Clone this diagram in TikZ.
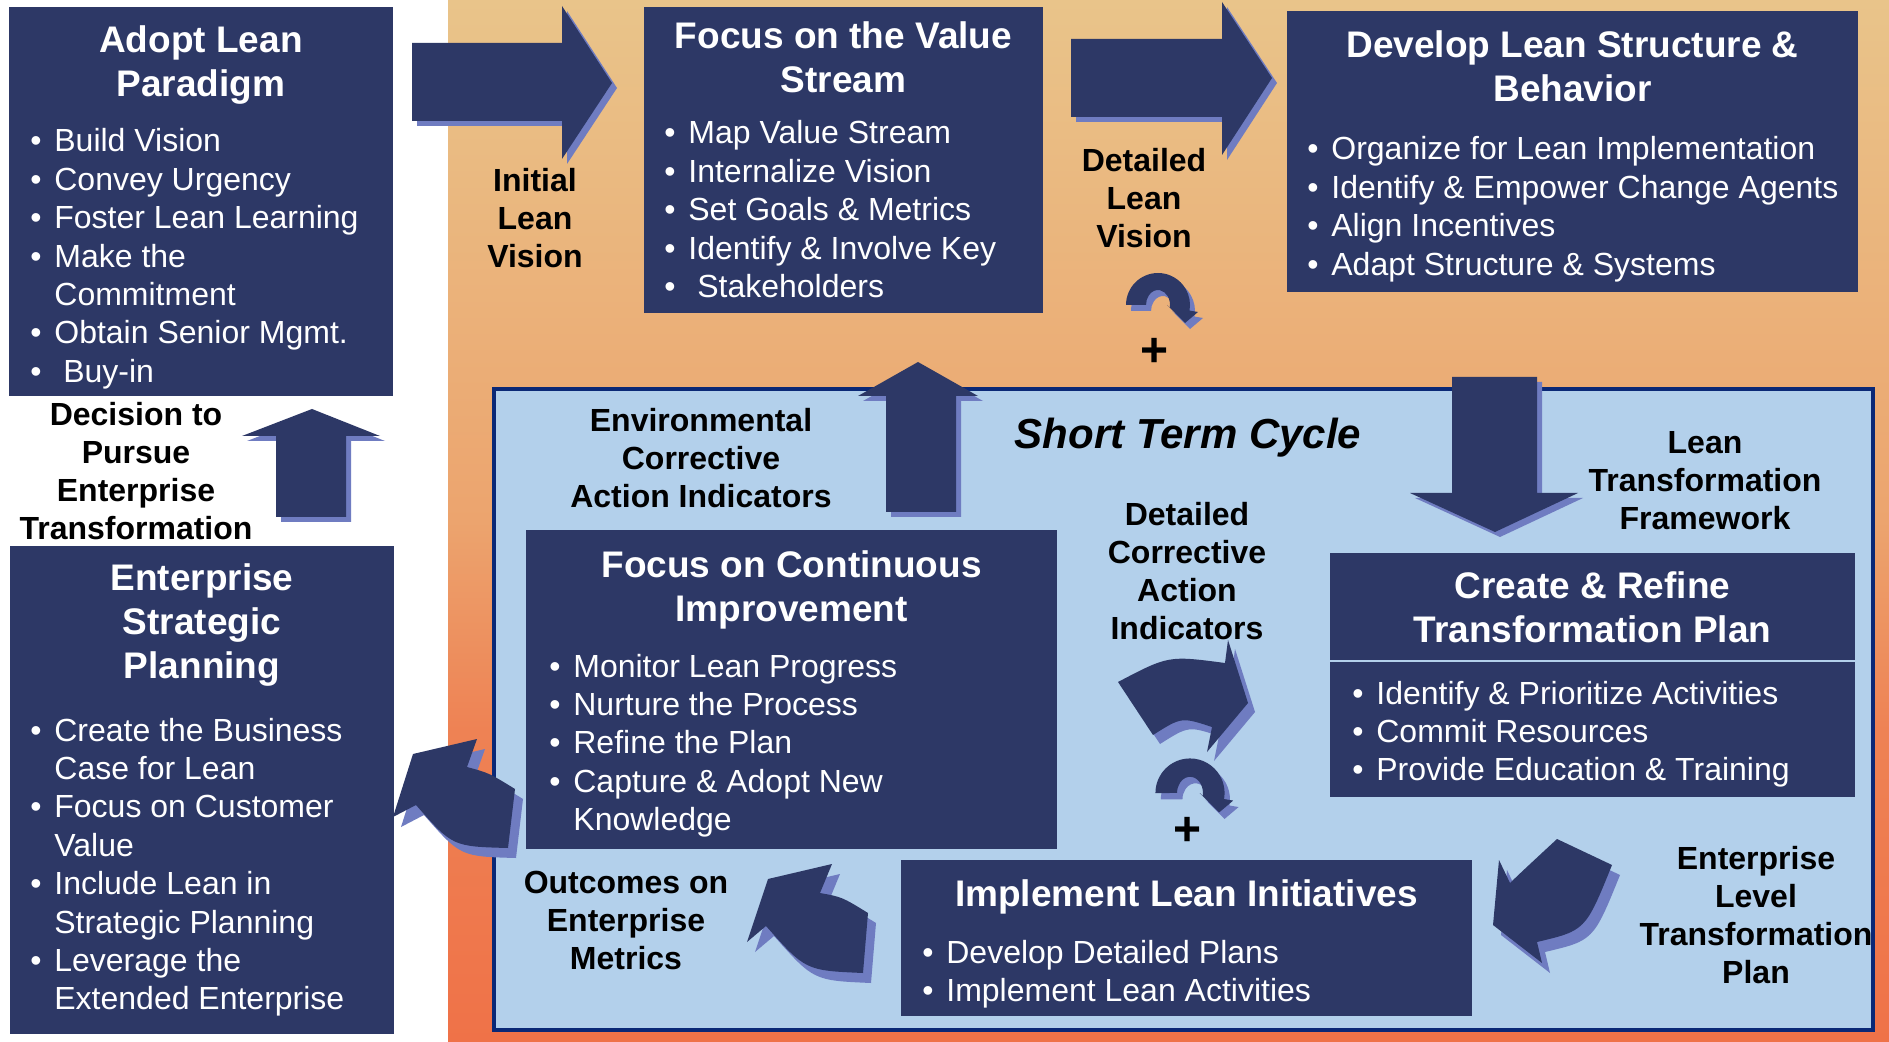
\documentclass[tikz,border=0pt]{standalone}
\usepackage{fontspec}
\setmainfont{Liberation Sans}
\usetikzlibrary{fit}

\definecolor{navy}{RGB}{45,56,102}
\definecolor{drop}{RGB}{111,124,193}
\definecolor{cyclefill}{RGB}{179,208,235}
\definecolor{cycleline}{RGB}{10,40,118}
\definecolor{warmA}{RGB}{239,114,72}
\definecolor{warmB}{RGB}{238,130,84}
\definecolor{warmC}{RGB}{236,164,110}
\definecolor{warmD}{RGB}{233,196,138}
% background fade, bottom (0bp) to top (100bp); the path box maps onto 25bp..75bp
\pgfdeclareverticalshading{warmfade}{100bp}{color(0bp)=(warmA); color(25bp)=(warmA);
  color(40bp)=(warmB); color(50bp)=(warmC); color(75bp)=(warmD); color(100bp)=(warmD)}

% multi-line text helpers
\newcommand{\stack}[1]{\begin{tabular}[t]{@{}c@{}}#1\end{tabular}}
\newcommand{\lst}[1]{\begin{tabular}[t]{@{}l@{}}#1\end{tabular}}
\newcommand{\bl}{\makebox[12pt][l]{\textbullet}}
\newcommand{\ind}{\hspace*{12pt}}

% block shapes with a light drop copy behind them
\newcommand{\shadowed}[2][5,5]{\fill[drop,shift={(#1)}] #2; \fill[navy] #2;}
\def\hookpath{(-32,0) arc[start angle=180, end angle=370, x radius=32, y radius=32]
  -- (40,7) -- (27,18) -- (9,0) -- (11.82,2.6)
  arc[start angle=370, end angle=180, x radius=12, y radius=15] -- cycle}
\newcommand{\hookarrow}[3]{%
  \begin{scope}[shift={(#1,#2)}, scale=#3]
    \fill[drop, shift={(5,6)}] \hookpath;
    \fill[navy] \hookpath;
  \end{scope}}

\tikzset{
  panel/.style={fill=navy, draw=none, inner sep=0pt, outer sep=0pt},
  cyclepanel/.style={fill=cyclefill, draw=cycleline, line width=1.75pt, inner sep=0pt},
  headtext/.style={text=white, font=\fontsize{18.5}{22}\selectfont\bfseries, anchor=base, inner sep=0pt},
  itemtext/.style={text=white, font=\fontsize{16}{19.2}\selectfont, anchor=base west, inner sep=0pt},
  tag/.style={text=black, font=\fontsize{16}{19}\selectfont\bfseries, anchor=base, inner sep=0pt},
  cycletitle/.style={text=black, font=\fontsize{21}{25}\selectfont\bfseries\itshape, anchor=base, inner sep=0pt},
  plus/.style={text=black, font=\fontsize{24}{24}\selectfont\bfseries, inner sep=0pt},
}

\begin{document}
\begin{tikzpicture}[x=0.5pt, y=-0.5pt]
\useasboundingbox (0,0) rectangle (1889,1042);
\fill[white] (0,0) rectangle (1889,1042);
\fill[shading=warmfade] (448,0) rectangle (1889,1042);

% ---- outer panels
\node[panel, fit={(9,7)(393,396)}] (adopt) {};
\node[headtext] (adopt-h) at (201,53) {\stack{Adopt Lean\\Paradigm}};
\node[itemtext] (adopt-i) at (30,152) {\lst{\bl Build Vision\\ \bl Convey Urgency\\ \bl Foster Lean Learning\\
  \bl Make the\\ \ind Commitment\\ \bl Obtain Senior Mgmt.\\ \bl\ Buy-in}};

\node[panel, fit={(644,7)(1043,313)}] (value) {};
\node[headtext] (value-h) at (843.5,49) {\stack{Focus on the Value\\Stream}};
\node[itemtext] (value-i) at (664,144) {\lst{\bl Map Value Stream\\ \bl Internalize Vision\\ \bl Set Goals \& Metrics\\
  \bl Identify \& Involve Key\\ \bl\ Stakeholders}};

\node[panel, fit={(1287,11)(1858,292)}] (develop) {};
\node[headtext] (develop-h) at (1572.5,58) {\stack{Develop Lean Structure \&\\Behavior}};
\node[itemtext] (develop-i) at (1307,160) {\lst{\bl Organize for Lean Implementation\\ \bl Identify \& Empower Change Agents\\
  \bl Align Incentives\\ \bl Adapt Structure \& Systems}};

\node[panel, fit={(10,546)(394,1034)}] (strategic) {};
\node[headtext] (strategic-h) at (202,590) {\stack{Enterprise\\Strategic\\Planning}};
\node[itemtext] (strategic-i) at (30,741) {\lst{\bl Create the Business\\ \ind Case for Lean\\ \bl Focus on Customer\\ \ind Value\\
  \bl Include Lean in\\ \ind Strategic Planning\\ \bl Leverage the\\ \ind Extended Enterprise}};

% ---- short term cycle
\node[cyclepanel, fit={(494,389)(1873,1030)}] (cycle) {};
\node[cycletitle] (cycle-h) at (1188,449) {Short Term Cycle};

\node[panel, fit={(526,530)(1057,849)}] (improve) {};
\node[headtext] (improve-h) at (791.5,577) {\stack{Focus on Continuous\\Improvement}};
\node[itemtext] (improve-i) at (549,677) {\lst{\bl Monitor Lean Progress\\ \bl Nurture the Process\\ \bl Refine the Plan\\
  \bl Capture \& Adopt New\\ \ind Knowledge}};

\node[panel, fit={(1330,553)(1855,797)}] (plan) {};
\coordinate (plan-rule) at (0,661);
\draw[cyclefill, line width=0.8pt] (plan.west |- plan-rule) -- (plan.east |- plan-rule);
\node[headtext] (plan-h) at (1592.5,598) {\stack{Create \& Refine\\Transformation Plan}};
\node[itemtext] (plan-i) at (1352,704) {\lst{\bl Identify \& Prioritize Activities\\ \bl Commit Resources\\
  \bl Provide Education \& Training}};

\node[panel, fit={(901,860)(1472,1016)}] (implement) {};
\node[headtext] (implement-h) at (1186.5,906) {Implement Lean Initiatives};
\node[itemtext] (implement-i) at (922,963) {\lst{\bl Develop Detailed Plans\\ \bl Implement Lean Activities}};

% ---- straight block arrows
\shadowed{(412,43) -- (562,43) -- (562,6) -- (612,83) -- (562,159) -- (562,121) -- (412,121) -- cycle}
\shadowed{(1071,39) -- (1222,39) -- (1222,2) -- (1272,78) -- (1222,155) -- (1222,117) -- (1071,117) -- cycle}
\shadowed{(276,517) -- (276,436) -- (242,436) -- (312,409) -- (380,436) -- (346,436) -- (346,517) -- cycle}
\shadowed{(886,512) -- (886,396) -- (858,396) -- (918,362) -- (978,396) -- (956,396) -- (956,512) -- cycle}
\shadowed{(1452,377) -- (1537,377) -- (1537,493) -- (1578,493) -- (1495,532) -- (1410,493) -- (1452,493) -- cycle}

% ---- curved block arrows
\shadowed[7,9]{(1118,682) .. controls (1168.5,655.5) .. (1225,663) -- (1228,640) -- (1248,703) -- (1207,752)
  -- (1212,727) .. controls (1181.5,717) .. (1153,735) -- cycle}
\shadowed[8,10]{(1557,839) .. controls (1522.5,871) .. (1510,883) -- (1499,860) -- (1493,925) -- (1542,963)
  -- (1537,942) .. controls (1585.5,930.5) .. (1612,865) -- cycle}
\shadowed[8,10]{(868,913) .. controls (842,897) .. (820,893) -- (832,864) -- (768,879) -- (747,942)
  -- (766,926) .. controls (805.5,970.5) .. (863,973) -- cycle}
\shadowed[8,10]{(515,789) .. controls (489,773) .. (467,767) -- (477,739) -- (413,754) -- (393,817)
  -- (416,805) .. controls (452.5,846.5) .. (508,848) -- cycle}

\hookarrow{1158}{305}{1}
\hookarrow{1190}{793}{1.08}
\node[plus] (plus-top) at (1154,352) {+};
\node[plus] (plus-low) at (1187,831) {+};

% ---- flow labels
\node[tag] (decision) at (136,425.5) {\stack{Decision to\\Pursue\\Enterprise\\Transformation}};
\node[tag] (initial) at (535,192) {\stack{Initial\\Lean\\Vision}};
\node[tag] (detvision) at (1144,172) {\stack{Detailed\\Lean\\Vision}};
\node[tag] (environ) at (701,431.5) {\stack{Environmental\\Corrective\\Action Indicators}};
\node[tag] (framework) at (1705,453.5) {\stack{Lean\\Transformation\\Framework}};
\node[tag] (detcorr) at (1187,525.5) {\stack{Detailed\\Corrective\\Action\\Indicators}};
\node[tag] (outcomes) at (626,893.5) {\stack{Outcomes on\\Enterprise\\Metrics}};
\node[tag] (entlevel) at (1756,869.5) {\stack{Enterprise\\Level\\Transformation\\Plan}};
\end{tikzpicture}
\end{document}
